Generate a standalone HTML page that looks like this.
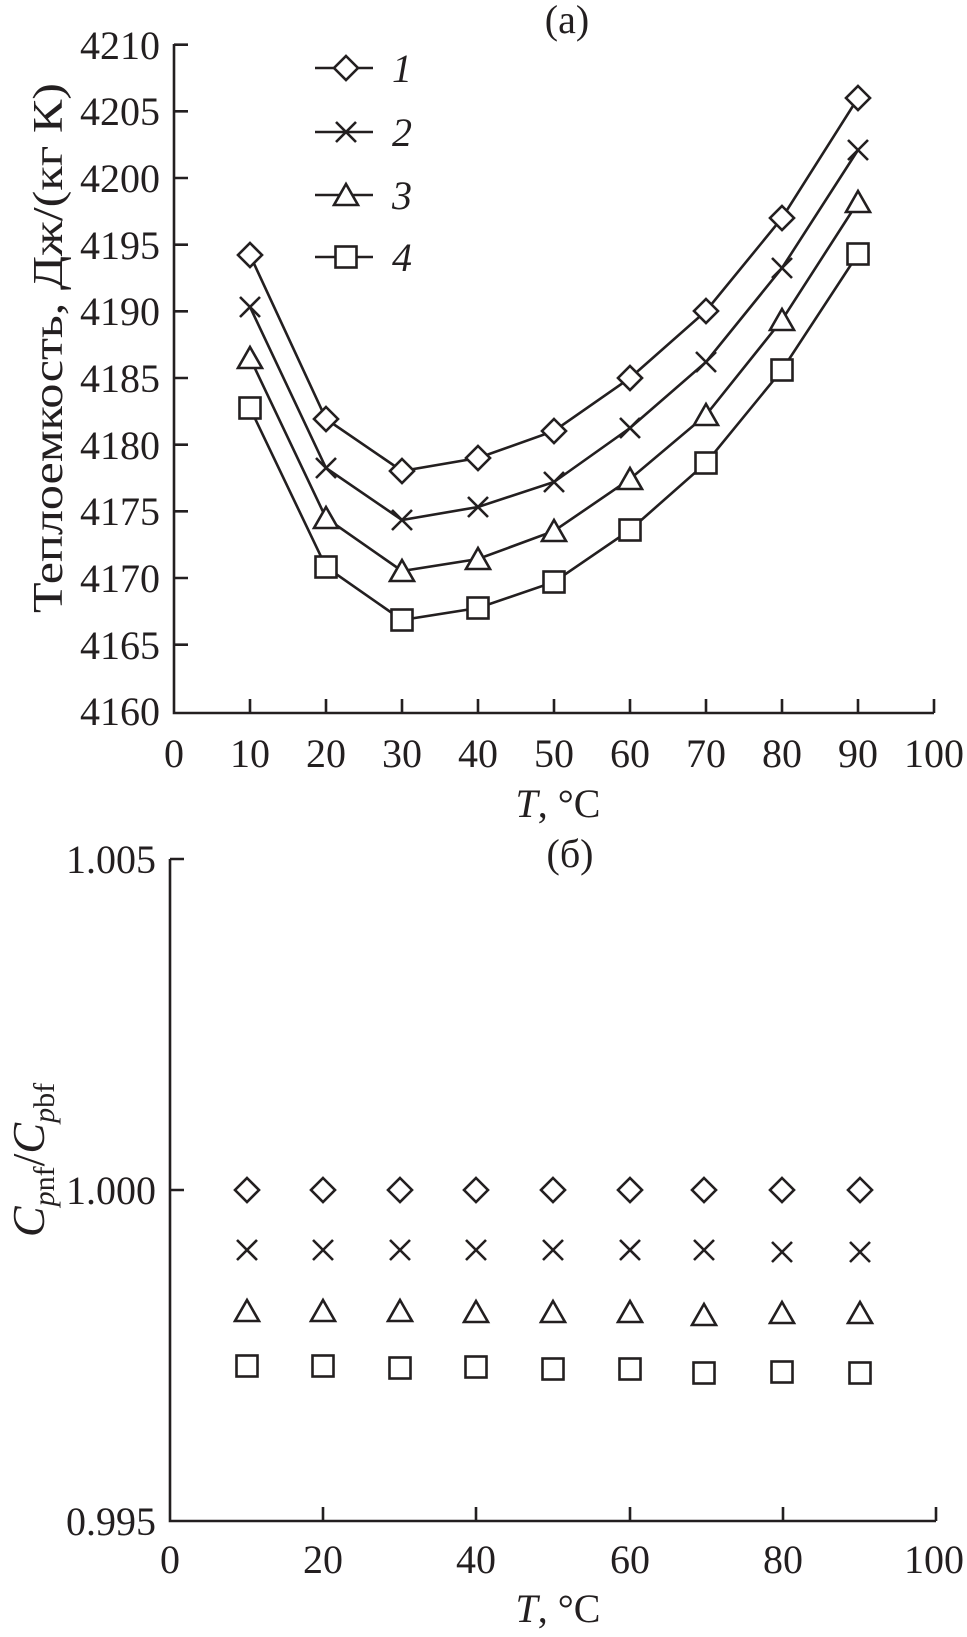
<!DOCTYPE html>
<html><head><meta charset="utf-8"><style>
html,body{margin:0;padding:0;background:#fff;}
svg{display:block;}
text{font-family:"Liberation Serif",serif;fill:#231f20;}
</style></head><body>
<svg width="967" height="1637" viewBox="0 0 967 1637" xmlns="http://www.w3.org/2000/svg">
<defs>
<g id="d"><polygon points="0,-12 12,0 0,12 -12,0" fill="#fff" stroke="#231f20" stroke-width="2.6"/></g>
<g id="x"><path d="M-10,-10L10,10M10,-10L-10,10" stroke="#231f20" stroke-width="2.6" fill="none"/></g>
<g id="t"><polygon points="0,-11 12,10 -12,10" fill="#fff" stroke="#231f20" stroke-width="2.6"/></g>
<g id="s"><rect x="-10.5" y="-10.5" width="21" height="21" fill="#fff" stroke="#231f20" stroke-width="2.6"/></g>
</defs>
<g stroke="#231f20" stroke-width="2.6" fill="none">
<path d="M174,44 V713 H934"/>
<path d="M174,44.7h14M174,111.3h14M174,178h14M174,244.7h14M174,311.3h14M174,378h14M174,444.7h14M174,511.3h14M174,578h14M174,644.7h14"/>
<path d="M250,713v-14M326,713v-14M402,713v-14M478,713v-14M554,713v-14M630,713v-14M706,713v-14M782,713v-14M858,713v-14M934,713v-14"/>
<polyline points="250,255 326,419 402,471 478,458 554,431 630,378 706,311 782,218 858,98"/>
<polyline points="250,307 326,468 402,520 478,507 554,482 630,428 706,362 782,268 858,150"/>
<polyline points="250,358 326,518 402,571 478,559 554,531 630,479 706,415 782,320 858,202"/>
<polyline points="250,408 326,567 402,620 478,608 554,582 630,530 706,463 782,370 858,254"/>
<path d="M315,68H373M315,132H373M315,195H373M315,257H373"/>
<path d="M170,859 V1521 H936"/>
<path d="M170,859h14M170,1190h14"/>
<path d="M323,1521v-14M476,1521v-14M630,1521v-14M783,1521v-14M936,1521v-14"/>
</g>
<use href="#d" x="250" y="255"/><use href="#d" x="326" y="419"/><use href="#d" x="402" y="471"/><use href="#d" x="478" y="458"/><use href="#d" x="554" y="431"/><use href="#d" x="630" y="378"/><use href="#d" x="706" y="311"/><use href="#d" x="782" y="218"/><use href="#d" x="858" y="98"/>
<use href="#x" x="250" y="307"/><use href="#x" x="326" y="468"/><use href="#x" x="402" y="520"/><use href="#x" x="478" y="507"/><use href="#x" x="554" y="482"/><use href="#x" x="630" y="428"/><use href="#x" x="706" y="362"/><use href="#x" x="782" y="268"/><use href="#x" x="858" y="150"/>
<use href="#t" x="250" y="358"/><use href="#t" x="326" y="518"/><use href="#t" x="402" y="571"/><use href="#t" x="478" y="559"/><use href="#t" x="554" y="531"/><use href="#t" x="630" y="479"/><use href="#t" x="706" y="415"/><use href="#t" x="782" y="320"/><use href="#t" x="858" y="202"/>
<use href="#s" x="250" y="408"/><use href="#s" x="326" y="567"/><use href="#s" x="402" y="620"/><use href="#s" x="478" y="608"/><use href="#s" x="554" y="582"/><use href="#s" x="630" y="530"/><use href="#s" x="706" y="463"/><use href="#s" x="782" y="370"/><use href="#s" x="858" y="254"/>
<use href="#d" x="346" y="68"/><use href="#x" x="346" y="132"/><use href="#t" x="346" y="195"/><use href="#s" x="346" y="257"/>
<g font-size="40" font-style="italic">
<text x="392" y="82">1</text><text x="392" y="146">2</text><text x="392" y="209">3</text><text x="392" y="271">4</text>
</g>
<use href="#d" x="247" y="1190"/><use href="#d" x="323" y="1190"/><use href="#d" x="400" y="1190"/><use href="#d" x="476" y="1190"/><use href="#d" x="553" y="1190"/><use href="#d" x="630" y="1190"/><use href="#d" x="704" y="1190"/><use href="#d" x="782" y="1190"/><use href="#d" x="860" y="1190"/>
<use href="#x" x="247" y="1250"/><use href="#x" x="323" y="1250"/><use href="#x" x="400" y="1250"/><use href="#x" x="476" y="1250"/><use href="#x" x="553" y="1250"/><use href="#x" x="630" y="1250"/><use href="#x" x="704" y="1250"/><use href="#x" x="782" y="1252"/><use href="#x" x="860" y="1252"/>
<use href="#t" x="247" y="1311"/><use href="#t" x="323" y="1311"/><use href="#t" x="400" y="1311"/><use href="#t" x="476" y="1312"/><use href="#t" x="553" y="1312"/><use href="#t" x="630" y="1312"/><use href="#t" x="704" y="1315"/><use href="#t" x="782" y="1313"/><use href="#t" x="860" y="1313"/>
<use href="#s" x="247" y="1366"/><use href="#s" x="323" y="1366"/><use href="#s" x="400" y="1368"/><use href="#s" x="476" y="1367"/><use href="#s" x="553" y="1369"/><use href="#s" x="630" y="1369"/><use href="#s" x="704" y="1373"/><use href="#s" x="782" y="1372"/><use href="#s" x="860" y="1373"/>
<g font-size="40" text-anchor="end">
<text x="160" y="59">4210</text><text x="160" y="125">4205</text><text x="160" y="192">4200</text><text x="160" y="259">4195</text><text x="160" y="325">4190</text><text x="160" y="392">4185</text><text x="160" y="459">4180</text><text x="160" y="525">4175</text><text x="160" y="592">4170</text><text x="160" y="659">4165</text><text x="160" y="725">4160</text>
</g>
<g font-size="40" text-anchor="middle">
<text x="174" y="767">0</text><text x="250" y="767">10</text><text x="326" y="767">20</text><text x="402" y="767">30</text><text x="478" y="767">40</text><text x="554" y="767">50</text><text x="630" y="767">60</text><text x="706" y="767">70</text><text x="782" y="767">80</text><text x="858" y="767">90</text><text x="934" y="767">100</text>
<text x="558" y="817"><tspan font-style="italic">T</tspan>, °C</text>
<text x="567" y="33">(a)</text>
<text x="570" y="867">(б)</text>
</g>
<text font-size="42" text-anchor="middle" textLength="530" lengthAdjust="spacingAndGlyphs" transform="translate(62,348) rotate(-90)">Теплоемкость, Дж/(кг К)</text>
<g font-size="40" text-anchor="end">
<text x="156" y="873">1.005</text><text x="156" y="1204">1.000</text><text x="156" y="1535">0.995</text>
</g>
<g font-size="40" text-anchor="middle">
<text x="170" y="1573">0</text><text x="323" y="1573">20</text><text x="476" y="1573">40</text><text x="630" y="1573">60</text><text x="783" y="1573">80</text><text x="934" y="1573">100</text>
<text x="558" y="1622"><tspan font-style="italic">T</tspan>, °C</text>
</g>
<text font-size="46" text-anchor="middle" transform="translate(44,1160) rotate(-90)"><tspan font-style="italic">C</tspan><tspan font-size="30" dy="10"><tspan font-style="italic">p</tspan>nf</tspan><tspan dy="-10">/</tspan><tspan font-style="italic">C</tspan><tspan font-size="30" dy="10"><tspan font-style="italic">p</tspan>bf</tspan></text>
</svg>
</body></html>
